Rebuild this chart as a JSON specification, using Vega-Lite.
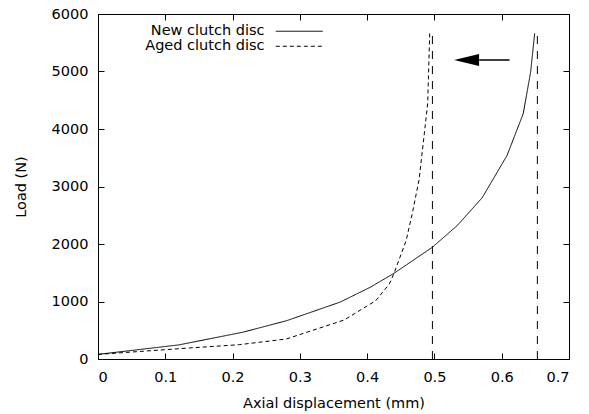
{
  "$schema": "https://vega.github.io/schema/vega-lite/v6.json",
  "width": 471,
  "height": 345,
  "autosize": "none",
  "padding": {"left": 98, "top": 14, "right": 20, "bottom": 55},
  "background": "white",
  "config": {
    "font": "DejaVu Sans",
    "view": {"stroke": "black", "strokeWidth": 1},
    "axis": {
      "grid": false,
      "domainColor": "black",
      "tickColor": "black",
      "tickSize": -6,
      "labelColor": "black",
      "labelFontSize": 14.5,
      "titleFontSize": 14.5,
      "titleFontWeight": "normal",
      "titleColor": "black",
      "labelFont": "DejaVu Sans",
      "titleFont": "DejaVu Sans"
    }
  },
  "datasets": {
    "curves": [
      {"series": "New clutch disc", "x": 0.0, "load": 80},
      {"series": "New clutch disc", "x": 0.12, "load": 245},
      {"series": "New clutch disc", "x": 0.215, "load": 465},
      {"series": "New clutch disc", "x": 0.28, "load": 665},
      {"series": "New clutch disc", "x": 0.36, "load": 990},
      {"series": "New clutch disc", "x": 0.405, "load": 1250},
      {"series": "New clutch disc", "x": 0.44, "load": 1491},
      {"series": "New clutch disc", "x": 0.497, "load": 1944},
      {"series": "New clutch disc", "x": 0.534, "load": 2322},
      {"series": "New clutch disc", "x": 0.571, "load": 2805},
      {"series": "New clutch disc", "x": 0.608, "load": 3542},
      {"series": "New clutch disc", "x": 0.632, "load": 4268},
      {"series": "New clutch disc", "x": 0.643, "load": 4993},
      {"series": "New clutch disc", "x": 0.649, "load": 5665},
      {"series": "Aged clutch disc", "x": 0.0, "load": 80},
      {"series": "Aged clutch disc", "x": 0.136, "load": 192},
      {"series": "Aged clutch disc", "x": 0.21, "load": 249},
      {"series": "Aged clutch disc", "x": 0.28, "load": 348},
      {"series": "Aged clutch disc", "x": 0.366, "load": 679},
      {"series": "Aged clutch disc", "x": 0.413, "load": 1016},
      {"series": "Aged clutch disc", "x": 0.433, "load": 1306},
      {"series": "Aged clutch disc", "x": 0.44, "load": 1491},
      {"series": "Aged clutch disc", "x": 0.458, "load": 2061},
      {"series": "Aged clutch disc", "x": 0.467, "load": 2526},
      {"series": "Aged clutch disc", "x": 0.477, "load": 3106},
      {"series": "Aged clutch disc", "x": 0.485, "load": 3920},
      {"series": "Aged clutch disc", "x": 0.49, "load": 4450},
      {"series": "Aged clutch disc", "x": 0.493, "load": 5665}
    ],
    "limits": [
      {"limit": "aged", "x": 0.497, "load": 0},
      {"limit": "aged", "x": 0.497, "load": 5665},
      {"limit": "new", "x": 0.653, "load": 0},
      {"limit": "new", "x": 0.653, "load": 5665}
    ],
    "arrow": [
      {"x": 0.5665, "load": 5200},
      {"x": 0.6117, "load": 5200}
    ],
    "head": [
      {"x": 0.5478, "load": 5200}
    ]
  },
  "resolve": {"axis": {"x": "independent", "y": "independent"}},
  "layer": [
    {
      "data": {"name": "curves"},
      "mark": {"type": "line", "color": "black", "strokeWidth": 1},
      "encoding": {
        "x": {
          "field": "x", "type": "quantitative",
          "scale": {"domain": [0, 0.7], "nice": false, "zero": false},
          "axis": {"orient": "bottom", "values": [0, 0.1, 0.2, 0.3, 0.4, 0.5, 0.6, 0.7], "format": "~g", "labelPadding": 17, "title": "Axial displacement (mm)", "titlePadding": 13}
        },
        "y": {
          "field": "load", "type": "quantitative",
          "scale": {"domain": [0, 6000], "nice": false},
          "axis": {"orient": "left", "values": [0, 1000, 2000, 3000, 4000, 5000, 6000], "format": "d", "labelPadding": 16, "title": "Load (N)", "titlePadding": 23}
        },
        "detail": {"field": "series"},
        "strokeDash": {
          "field": "series", "type": "nominal",
          "scale": {"domain": ["New clutch disc", "Aged clutch disc"], "range": [[1, 0], [4, 3]]},
          "legend": {
            "orient": "none", "legendX": 194, "legendY": 10, "title": null,
            "padding": 0, "symbolType": "M-5,0H5", "symbolSize": 88,
            "symbolStrokeWidth": 1, "symbolStrokeColor": "black",
            "labelAlign": "right", "labelOffset": -42, "labelFontSize": 14.5,
            "labelFont": "DejaVu Sans",
            "labelColor": "black", "rowPadding": 0
          }
        }
      }
    },
    {
      "data": {"name": "limits"},
      "mark": {"type": "line", "color": "black", "strokeWidth": 1, "strokeDash": [8, 7]},
      "encoding": {
        "x": {"field": "x", "type": "quantitative", "axis": {"orient": "top", "values": [0, 0.1, 0.2, 0.3, 0.4, 0.5, 0.6, 0.7], "labels": false, "title": null}},
        "y": {"field": "load", "type": "quantitative", "axis": {"orient": "right", "values": [0, 1000, 2000, 3000, 4000, 5000, 6000], "labels": false, "title": null}},
        "detail": {"field": "limit"}
      }
    },
    {
      "data": {"name": "arrow"},
      "mark": {"type": "line", "color": "black", "strokeWidth": 1.5},
      "encoding": {
        "x": {"field": "x", "type": "quantitative", "axis": null},
        "y": {"field": "load", "type": "quantitative", "axis": null}
      }
    },
    {
      "data": {"name": "head"},
      "mark": {"type": "point", "shape": "M-1,0L1,-0.48L1,0.48Z", "size": 625, "filled": true, "color": "black", "opacity": 1, "strokeWidth": 0},
      "encoding": {
        "x": {"field": "x", "type": "quantitative", "axis": null},
        "y": {"field": "load", "type": "quantitative", "axis": null}
      }
    }
  ]
}
